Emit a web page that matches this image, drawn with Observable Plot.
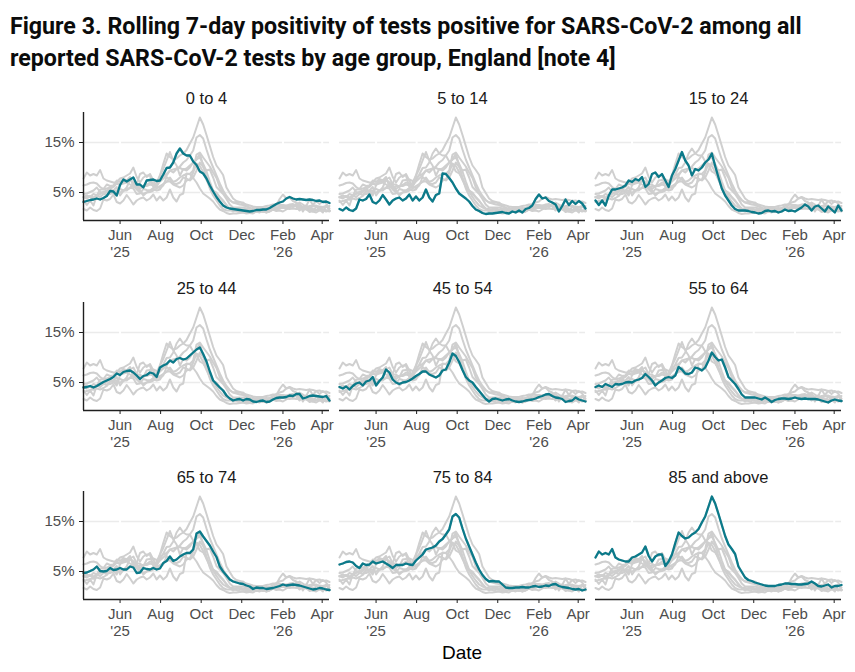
<!DOCTYPE html>
<html>
<head>
<meta charset="utf-8">
<script src="https://cdn.jsdelivr.net/npm/d3@7"></script>
<script src="https://cdn.jsdelivr.net/npm/@observablehq/plot@0.6"></script>
<style>
  body { margin: 0; background: #fff; }
  #chart { position: relative; width: 855px; height: 672px; overflow: hidden;
           font-family: "Liberation Sans", Arial, sans-serif; }
  #title { position: absolute; left: 10px; top: 10px; margin: 0;
           font-family: "Roboto", "Liberation Sans", sans-serif;
           font-weight: bold; font-size: 23.2px; line-height: 32px; color: #0b0c0c; white-space: nowrap; }
  .panel { position: absolute; }
  #xlabel { position: absolute; left: 0; width: 924px; top: 642px; text-align: center;
            font-size: 19px; color: #000; }
</style>
</head>
<body>
<div id="chart">
  <div id="title">Figure 3. Rolling 7-day positivity of tests positive for SARS-CoV-2 among all<br>reported SARS-CoV-2 tests by age group, England [note 4]</div>
  <div id="xlabel">Date</div>
</div>
<script>
// Age groups, in panel order
const ageGroups = ["0 to 4", "5 to 14", "15 to 24", "25 to 44", "45 to 54", "55 to 64", "65 to 74", "75 to 84", "85 and above"];

// Rolling 7-day positivity (%), one value every 5 days from 7 April 2025
const firstDate = "2025-04-07";
const stepDays = 5;

const pos_0_4 = [3.1,3.3,3.5,3.6,3.8,3.6,3.9,4.3,5.3,5.2, 4.4,6.5,7.6,7.2,7.6,8.0,6.6,6.6,6.0,7.4,
  7.5,7.6,7.3,7.4,8.6,9.9,10.0,11.0,12.8,13.8, 12.8,12.4,12.4,11.2,10.5,9.2,8.8,7.8,6.4,5.2,
  4.1,3.2,2.4,2.0,1.8,1.7,1.6,1.5,1.4,1.3, 1.2,1.3,1.5,1.5,1.6,1.6,1.9,2.3,2.7,3.0,
  3.2,3.8,4.1,3.8,3.6,3.7,3.6,3.5,3.6,3.5, 3.3,3.4,3.1,3.2,2.9];
const pos_5_14 = [1.7,1.4,2.0,1.5,1.3,1.8,3.6,3.4,3.7,4.6, 3.1,2.8,3.4,4.5,3.6,2.6,3.4,3.8,4.0,3.4,
  3.8,4.6,3.4,4.2,3.4,4.0,5.6,4.0,3.2,4.5, 4.8,8.8,8.7,7.9,7.0,5.8,4.8,4.3,3.8,3.2,
  2.3,1.6,1.3,0.9,0.7,0.8,0.8,0.9,1.0,1.1, 0.9,0.8,1.2,1.0,1.4,1.0,1.7,1.9,2.4,3.7,
  4.6,3.8,4.0,3.3,3.0,2.6,1.2,2.3,3.6,2.5, 3.3,2.7,3.3,2.8,1.8];
const pos_15_24 = [3.4,2.5,3.4,2.4,4.4,5.6,5.6,5.8,6.0,6.4, 7.4,7.1,7.7,7.4,8.1,6.1,6.7,8.7,9.0,8.1,
  8.7,7.4,6.1,8.4,9.7,11.4,13.1,11.4,10.4,8.4, 9.7,9.4,10.0,11.0,11.6,12.8,10.3,8.0,5.8,4.4,
  3.4,2.4,1.7,1.4,1.4,1.4,1.3,1.1,1.0,0.8, 0.9,1.3,1.4,1.2,1.3,1.0,1.2,1.6,1.3,1.4,
  1.2,1.6,2.0,2.6,2.2,1.4,2.2,2.4,1.8,1.2, 2.2,1.6,1.0,2.4,1.4];
const pos_25_44 = [4.0,4.1,4.3,4.0,4.3,4.7,5.1,5.4,5.7,6.1, 6.8,6.5,7.1,7.3,7.4,7.0,6.4,5.7,6.3,6.5,
  7.0,6.8,6.1,8.0,8.4,8.7,9.4,9.0,9.7,9.9, 9.6,9.8,10.4,11.0,11.6,12.0,10.7,9.2,7.2,5.4,
  4.7,4.0,3.4,2.4,1.8,1.4,1.6,1.7,1.4,1.7, 1.6,1.2,1.1,1.3,1.4,1.1,1.2,1.6,1.9,2.0,
  2.0,2.1,2.4,2.3,2.7,2.7,1.8,2.0,2.3,2.4, 2.3,2.2,2.1,2.3,1.4];
const pos_45_54 = [4.1,3.8,4.2,3.6,4.3,4.8,5.0,4.4,5.2,5.4, 6.1,4.4,5.3,6.0,7.6,7.0,5.6,5.0,4.7,5.0,
  5.1,5.4,5.8,6.3,6.7,7.2,7.2,6.6,6.3,6.0, 6.4,7.4,7.6,9.0,10.8,10.3,9.1,7.5,6.1,5.4,
  5.0,4.1,3.3,2.5,1.7,1.2,1.7,1.8,1.6,1.4, 1.6,1.7,1.4,1.2,1.1,1.2,1.4,1.5,1.6,1.8,
  2.1,2.3,2.6,2.7,2.3,2.0,1.9,1.7,1.1,1.3, 1.4,2.0,1.6,1.4,1.2];
const pos_55_64 = [4.1,4.4,4.1,4.7,4.4,4.1,4.7,4.6,4.7,5.0, 5.1,5.0,5.4,5.6,5.9,6.7,6.1,5.4,4.4,5.0,
  5.4,5.9,6.1,5.9,6.4,8.1,7.6,6.8,6.7,7.0, 8.0,7.8,7.4,8.0,9.4,11.0,10.1,9.4,9.6,8.0,
  6.1,5.4,4.7,3.7,2.6,2.0,2.0,2.0,2.0,1.8, 1.6,2.0,1.6,1.1,1.5,1.7,1.8,1.8,1.7,1.8,
  2.0,1.8,1.7,1.8,1.7,1.7,1.7,1.6,1.4,1.2, 1.0,1.4,1.6,1.4,1.3];
const pos_65_74 = [4.7,4.8,5.1,5.4,6.0,5.1,5.0,5.1,5.7,5.3, 5.4,5.7,5.4,5.4,6.0,5.8,4.7,4.8,5.7,5.5,
  5.4,5.7,5.4,5.6,6.7,7.1,8.0,7.1,7.4,8.0, 8.4,8.7,8.7,9.4,12.6,13.0,12.0,11.1,10.2,9.0,
  7.9,6.0,5.0,4.2,3.4,3.0,2.8,2.6,2.5,2.2, 2.0,1.5,1.8,1.7,1.7,1.5,1.6,1.7,1.9,2.1,
  2.4,2.2,2.3,2.4,2.3,2.2,2.0,1.8,1.6,1.4, 1.5,1.7,1.6,1.4,1.3];
const pos_75_84 = [6.4,6.6,6.9,7.0,6.8,6.1,5.7,6.6,6.3,6.4, 7.0,6.6,6.8,7.0,6.6,6.2,5.7,6.3,6.3,6.3,
  6.6,6.4,6.3,7.2,7.8,8.4,9.4,9.6,9.8,10.2, 11.0,11.5,12.4,13.4,16.0,16.5,15.8,13.6,11.6,10.0,
  8.4,6.8,5.4,4.3,3.5,3.0,3.1,3.0,3.0,2.4, 1.8,1.7,1.7,1.8,1.8,1.9,1.8,1.8,2.0,2.1,
  1.9,2.0,2.2,2.1,2.4,2.5,2.1,1.9,1.8,1.7, 1.5,1.4,1.5,1.2,1.4];
const pos_85_plus = [7.8,9.0,8.4,8.7,8.4,9.5,7.8,7.4,7.2,7.0, 7.0,7.8,8.0,8.4,8.8,10.0,8.1,7.0,8.0,8.4,
  8.4,6.1,7.0,8.4,10.7,12.8,12.1,11.6,11.8,12.4, 12.8,13.5,14.8,16.0,18.0,20.0,18.6,16.5,14.3,12.1,
  10.4,9.5,8.5,6.0,4.9,3.8,3.3,3.1,2.8,2.6, 2.4,2.2,2.1,2.1,2.1,2.3,2.4,2.6,2.6,2.5,
  2.5,2.4,2.4,2.5,2.6,3.0,2.6,2.1,2.0,2.2, 2.4,1.8,2.1,2.1,2.3];

const seriesByGroup = [pos_0_4, pos_5_14, pos_15_24, pos_25_44, pos_45_54, pos_55_64, pos_65_74, pos_75_84, pos_85_plus];

// Axis ticks
const xTickDates = ["2025-06-01", "2025-08-01", "2025-10-01", "2025-12-01", "2026-02-01", "2026-04-01"];
const yTickValues = [5, 15];

// Long-format table
const start = new Date(firstDate);
const dates = d3.range(pos_0_4.length).map(i => d3.utcDay.offset(start, i * stepDays));
const table = ageGroups.flatMap((group, gi) =>
  seriesByGroup[gi].map((value, i) => ({group, date: dates[i], value})));

const xTicks = xTickDates.map(d => new Date(d));
const fmtMonth = d3.utcFormat("%b");
const fmtYear = d3.utcFormat("'%y");
const xTickFormat = (d, i) => {
  const prev = i > 0 ? xTicks[i - 1] : null;
  const newYear = !prev || prev.getUTCFullYear() !== d.getUTCFullYear();
  return newYear ? fmtMonth(d) + "\n" + fmtYear(d) : fmtMonth(d);
};

// Small-multiple layout
const colLeft = [83, 339, 595];
const rowTop = [112, 302, 491];
const panelW = 246, panelH = 108;
const mTop = 32, mBottom = 48;
const yDomain = [-0.6, 21];
const teal = "#0b7a8a";
const axisInk = "#1f1f1f";

const chart = document.getElementById("chart");

ageGroups.forEach((group, idx) => {
  const r = Math.floor(idx / 3), c = idx % 3;
  const mLeft = c === 0 ? 83 : 5;
  const mRight = c === 2 ? 14 : 6;
  const own = table.filter(d => d.group === group);

  const marks = [
    Plot.ruleY(yTickValues, {stroke: "#ebebeb", strokeWidth: 1.6}),
    Plot.ruleX(xTicks, {stroke: "#ffffff", strokeWidth: 2}),
    Plot.lineY(table, {x: "date", y: "value", z: "group", stroke: "#cfcfcf", strokeWidth: 2, strokeLinejoin: "round"}),
    Plot.lineY(own, {x: "date", y: "value", stroke: teal, strokeWidth: 2.3, strokeLinejoin: "round"}),
    Plot.ruleY([yDomain[0]], {stroke: axisInk, strokeWidth: 1.4}),
    Plot.axisX(xTicks, {tickFormat: xTickFormat, tickSize: 4, tickPadding: 3, stroke: axisInk,
      fill: "#4d4d4d", fontSize: 15, lineHeight: 1.15, label: null}),
    Plot.text([group], {text: d => d, frameAnchor: "top", lineAnchor: "middle", dy: -14,
      fill: "#1a1a1a", fontSize: 16.5})
  ];
  if (c === 0) {
    marks.push(
      Plot.ruleX([dates[0]], {stroke: axisInk, strokeWidth: 1.4}),
      Plot.axisY(yTickValues, {tickFormat: d => d + "%", tickSize: 4, tickPadding: 5, stroke: axisInk,
        fill: "#4d4d4d", fontSize: 15, label: null})
    );
  }

  const svg = Plot.plot({
    width: mLeft + panelW + mRight,
    height: mTop + panelH + mBottom,
    marginLeft: mLeft, marginRight: mRight, marginTop: mTop, marginBottom: mBottom,
    style: {background: "transparent", fontFamily: "\"Liberation Sans\", Arial, sans-serif", fontSize: "15px", overflow: "visible"},
    x: {type: "utc", domain: [dates[0], dates[dates.length - 1]]},
    y: {domain: yDomain, axis: c === 0 ? undefined : null},
    marks
  });
  svg.classList.add("panel");
  svg.style.left = (colLeft[c] - mLeft) + "px";
  svg.style.top = (rowTop[r] - mTop) + "px";
  chart.appendChild(svg);
});
</script>
</body>
</html>
